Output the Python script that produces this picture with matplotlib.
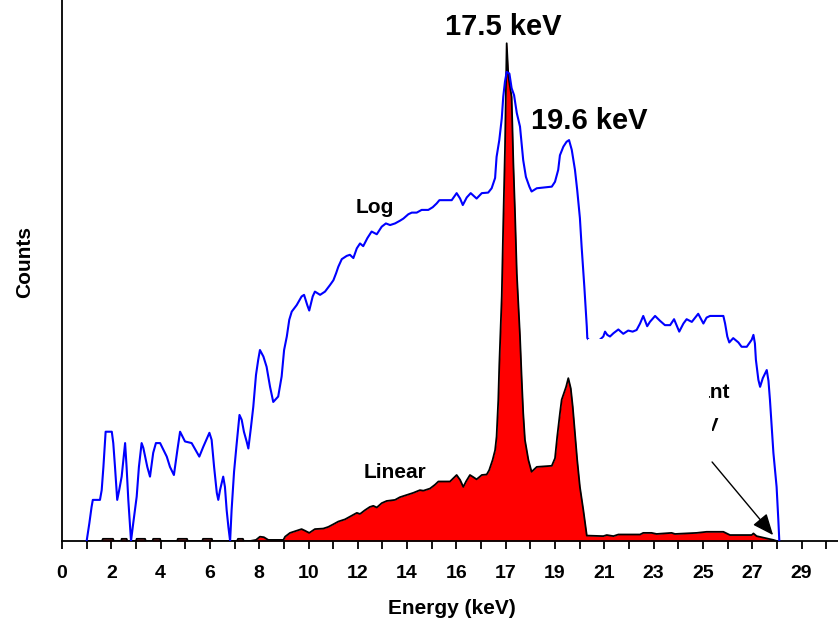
import matplotlib.pyplot as plt
from matplotlib.patches import Polygon

plt.rcParams['font.family'] = ['Liberation Sans', 'DejaVu Sans']
plt.rcParams['font.weight'] = 'bold'

# ---- data (x = channel index on the axis, y = counts, arbitrary units) ----
tick_pos = list(range(0, 31, 2))
tick_labels = ["0", "2", "4", "6", "8", "10", "12", "14", "16",
               "17", "19", "21", "23", "25", "27", "29"]

log_x = [1.00, 1.11, 1.20, 1.25, 1.54, 1.61, 1.68, 1.77, 2.02, 2.08, 2.15, 2.24,
         2.32, 2.42, 2.56, 2.62, 2.69, 2.76, 2.80, 2.89, 3.03, 3.12, 3.23, 3.30,
         3.46, 3.57, 3.70, 3.81, 3.98, 4.25, 4.38, 4.54, 4.68, 4.79, 4.99, 5.26,
         5.57, 5.73, 5.98, 6.07, 6.17, 6.28, 6.34, 6.41, 6.54, 6.61, 6.68, 6.75,
         6.82, 6.88, 6.98, 7.08, 7.20, 7.29, 7.38, 7.49, 7.56, 7.66, 7.76, 7.87,
         7.96, 8.03, 8.17, 8.30, 8.44, 8.57, 8.77, 8.91, 9.01, 9.12, 9.22, 9.32,
         9.52, 9.72, 9.82, 9.95, 10.03, 10.17, 10.26, 10.47, 10.67, 10.87, 11.01,
         11.12, 11.21, 11.35, 11.55, 11.68, 11.82, 11.96, 12.09, 12.22, 12.39,
         12.56, 12.77, 12.97, 13.14, 13.31, 13.51, 13.71, 13.85, 14.05, 14.19,
         14.39, 14.59, 14.86, 15.04, 15.20, 15.31, 15.81, 16.01, 16.15, 16.26,
         16.42, 16.58, 16.82, 17.03, 17.29, 17.43, 17.57, 17.63, 17.74, 17.84,
         17.90, 17.97, 18.04, 18.15, 18.24, 18.34, 18.45, 18.58, 18.65, 18.71,
         18.82, 18.96, 19.05, 19.26, 19.87, 20.00, 20.13, 20.20, 20.34, 20.47,
         20.57, 20.68, 20.81, 20.90, 21.01, 21.08, 21.19, 21.29, 21.31, 21.58,
         21.96, 22.03, 22.12, 22.23, 22.37, 22.57, 22.77, 22.97, 23.15, 23.31,
         23.45, 23.58, 23.74, 23.85, 24.06, 24.26, 24.46, 24.67, 24.83, 25.04,
         25.21, 25.34, 25.55, 25.81, 26.02, 26.15, 26.29, 26.83, 26.90, 26.99,
         27.07, 27.23, 27.44, 27.57, 27.78, 27.98, 28.05, 28.11, 28.15, 28.25,
         28.32, 28.43, 28.59, 28.66, 28.72, 28.86, 28.99, 29.06, 29.10]
log_y = [0.0, 3.3, 6.3, 7.6, 7.6, 9.4, 13.7, 20.2, 20.2, 18.1, 13.7, 7.6,
         9.4, 11.9, 18.1, 13.7, 7.6, 2.8, 0.0, 3.3, 8.2, 13.7, 18.1, 17.2,
         13.7, 11.9, 16.3, 18.1, 18.1, 15.6, 13.7, 12.2, 16.8, 20.2, 18.4, 18.1,
         15.6, 17.4, 20.0, 18.7, 13.7, 8.9, 7.6, 9.4, 11.9, 10.0, 5.7, 2.6,
         0.0, 5.7, 12.8, 17.7, 23.3, 22.4, 20.2, 18.4, 17.1, 20.8, 24.8, 30.7,
         33.5, 35.3, 34.1, 32.2, 28.5, 25.7, 26.7, 30.4, 35.3, 37.8, 40.9, 42.4,
         43.6, 45.2, 45.5, 43.6, 42.6, 45.2, 46.1, 45.5, 46.1, 47.3, 48.2,
         49.5, 50.7, 52.1, 52.7, 52.9, 52.3, 54.1, 55.0, 54.5, 56.0,
         57.2, 56.7, 58.1, 58.7, 58.4, 58.7, 59.2, 59.6, 60.4, 60.7,
         60.7, 61.2, 61.2, 61.7, 62.4, 63.0, 63.0, 64.3, 63.3, 62.1,
         63.5, 64.3, 63.3, 64.3, 64.4, 65.2, 67.1, 71.0, 74.1, 78.1,
         82.1, 84.9, 86.7, 86.4, 83.7, 82.4, 79.1, 76.6, 73.2, 70.4,
         67.3, 65.5, 64.6, 65.2, 65.5, 66.4, 68.6, 71.3, 72.9, 73.8,
         74.1, 72.3, 68.6, 64.9, 59.7, 54.4, 47.0, 39.6, 37.5, 36.2,
         37.8, 38.7, 38.1, 37.8, 38.4, 39.1, 38.3, 38.9, 38.7, 39.0,
         40.2, 41.6, 39.7, 40.5, 41.6, 40.7, 39.9, 39.9, 41.0, 38.7,
         40.2, 41.0, 40.5, 42.0, 40.2, 41.3, 41.6, 41.6, 40.2, 37.8,
         36.7, 37.5, 36.7, 35.9, 35.9, 37.2, 38.1, 36.5, 33.5, 29.8,
         28.5, 30.1, 31.6, 29.6, 26.1, 16.3, 10.0, 3.9, 0.0]

lin_x = [1.00, 1.62, 1.66, 2.07, 2.10, 2.40, 2.42, 2.62, 2.65, 3.00, 3.03, 3.37,
         3.40, 3.67, 3.70, 3.98, 4.00, 4.67, 4.70, 5.07, 5.10, 5.69, 5.72, 6.08,
         6.10, 7.10, 7.14, 7.34, 7.37, 7.63, 7.87, 8.03, 8.19, 8.37, 8.98, 9.05,
         9.25, 9.52, 9.72, 9.86, 10.03, 10.26, 10.60, 10.80, 11.01, 11.21, 11.48,
         11.68, 11.96, 12.09, 12.29, 12.49, 12.63, 12.77, 12.97, 13.17, 13.51,
         13.71, 13.98, 14.25, 14.52, 14.66, 14.93, 15.13, 15.27, 15.74, 16.01,
         16.15, 16.28, 16.39, 16.55, 16.69, 16.82, 17.03, 17.23, 17.33, 17.47,
         17.57, 17.63, 17.70, 17.74, 17.84, 17.90, 17.97, 18.04, 18.11, 18.24,
         18.31, 18.38, 18.45, 18.58, 18.65, 18.71, 18.78, 18.92, 19.05, 19.26,
         19.87, 20.00, 20.09, 20.20, 20.27, 20.45, 20.54, 20.64, 20.72, 20.81,
         20.90, 21.01, 21.15, 21.29, 21.96, 22.10, 22.37, 22.57, 23.45, 23.58,
         23.92, 24.12, 24.73, 24.87, 25.75, 26.15, 26.83, 27.10, 27.98, 28.05,
         28.18, 28.86, 29.00]
lin_y = [0.0, 0.0, 0.4, 0.4, 0.0, 0.0, 0.4, 0.4, 0.0, 0.0, 0.4, 0.4,
         0.0, 0.0, 0.4, 0.4, 0.0, 0.0, 0.4, 0.4, 0.0, 0.0, 0.4, 0.4,
         0.0, 0.0, 0.4, 0.4, 0.0, 0.0, 0.2, 0.8, 0.7, 0.2, 0.2, 0.8,
         1.5, 1.9, 2.2, 1.9, 1.5, 2.2, 2.3, 2.6, 3.1, 3.6, 4.0,
         4.5, 5.2, 5.0, 5.7, 6.3, 6.5, 6.2, 7.0, 7.4, 7.6,
         8.1, 8.5, 8.9, 9.4, 9.3, 9.7, 10.4, 11.0, 11.0, 12.2,
         11.3, 10.0, 11.0, 12.2, 11.8, 11.4, 12.2, 12.3, 13.1, 15.0,
         16.8, 19.3, 26.1, 32.5, 45.2, 58.4, 72.3, 92.0, 85.8, 82.1,
         69.9, 60.3, 49.5, 37.8, 29.8, 23.7, 18.7, 15.0, 12.8, 13.7,
         13.9, 15.3, 19.3, 23.6, 26.1, 28.5, 30.1, 28.2, 24.8, 19.9,
         15.0, 10.0, 5.7, 1.0, 0.9, 1.1, 0.9, 1.2, 1.2, 1.5,
         1.5, 1.3, 1.5, 1.3, 1.5, 1.7, 1.7, 1.1, 1.1, 1.4,
         0.9, 0.2, 0.0]

# ---- figure ----
fig = plt.figure(figsize=(8.38, 6.26), dpi=100)
ax = fig.add_axes([62 / 838, 85 / 626, 776 / 838, 541 / 626])

ax.fill_between(lin_x, lin_y, 0, color="#ff0000", lw=0, zorder=2)
ax.plot(lin_x, lin_y, color="black", lw=1.3, zorder=3)
ax.plot(log_x, log_y, color="#0000ff", lw=1.5, zorder=4)

# annotation that is partly covered in the original
ax.text(27.1, 26.4, "Contaminant", fontsize=15, ha="right", va="baseline", zorder=5)
ax.text(26.65, 20.4, "28 keV", fontsize=14, ha="right", va="baseline", zorder=5)
mask = Polygon([(21.34, 37.3), (26.25, 37.3), (26.25, 25.1), (26.37, 25.1),
                (26.37, 2.0), (21.34, 2.0)], closed=True,
               facecolor="white", edgecolor="none", zorder=6)
ax.add_patch(mask)
ax.annotate("", xy=(28.92, 0.7), xytext=(26.3, 15.0),
            arrowprops=dict(arrowstyle="-|>,head_length=1.3,head_width=0.55",
                            color="black", lw=1.0), zorder=7)

ax.text(17.89, 95.0, "17.5 keV", fontsize=21, ha="center", va="center", zorder=8)
ax.text(21.38, 77.6, "19.6 keV", fontsize=21, ha="center", va="center", zorder=8)
ax.text(12.70, 61.6, "Log", fontsize=15, ha="center", va="center", zorder=8)
ax.text(13.51, 12.6, "Linear", fontsize=15, ha="center", va="center", zorder=8)

ax.set_xlim(0, 776 / 24.65)
ax.set_ylim(0, 100)
ax.set_xticks(range(0, 32), minor=True)
ax.set_xticks(tick_pos)
ax.set_xticklabels(tick_labels, fontsize=14, fontweight="bold")
ax.tick_params(axis="x", which="both", direction="out", length=6, width=1.3, pad=11)
ax.set_yticks([])
for s in ["top", "right"]:
    ax.spines[s].set_visible(False)
ax.spines["left"].set_linewidth(1.3)
ax.spines["bottom"].set_linewidth(1.3)

fig.text(452 / 838, 1 - 609 / 626, "Energy (keV)", fontsize=15, ha="center", va="center")
fig.text(25 / 838, 1 - 262 / 626, "Counts", fontsize=15, rotation=90, ha="center", va="center")

plt.savefig("out.png", dpi=100)
